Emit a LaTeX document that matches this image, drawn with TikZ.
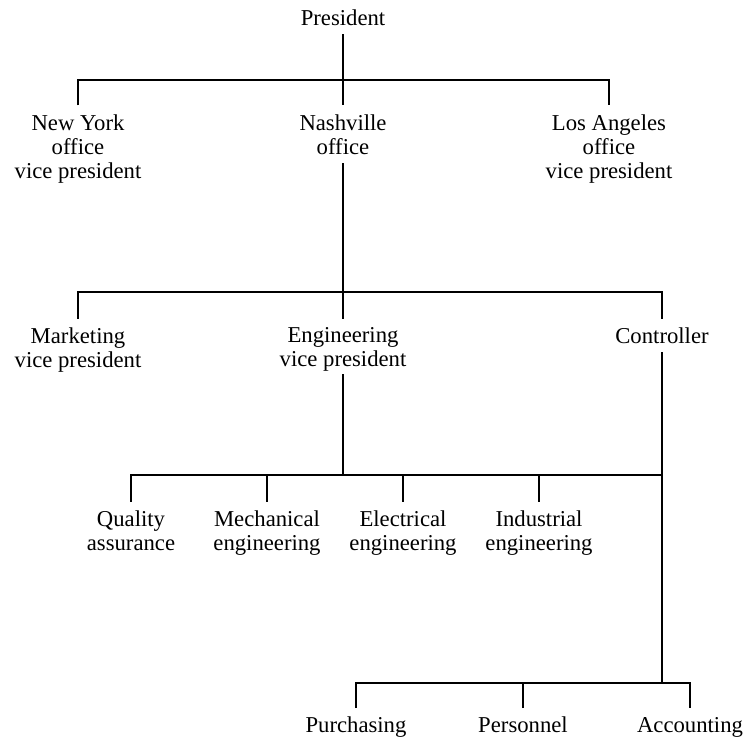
\documentclass[tikz,border=0pt]{standalone}
\usepackage{fontspec}
\setmainfont{Liberation Serif}
\begin{document}
\begin{tikzpicture}[x=1pt,y=-1pt,
  unit/.style={inner sep=0pt,outer xsep=0pt,outer ysep=9pt,align=center,anchor=north,
    font=\fontsize{22.7}{24}\selectfont},
  link/.style={line width=2.8pt}]
\useasboundingbox (0,0) rectangle (747,738);

% top level
\node[unit] (pres) at (343,0.5) {President};

% offices
\node[unit] (ny)   at (78,105.5)  {New York\\office\\vice president};
\node[unit] (nash) at (343,105.5) {Nashville\\office};
\node[unit] (la)   at (609,105.5) {Los Angeles\\office\\vice president};

% Nashville staff
\node[unit] (mkt)  at (78,318.5)  {Marketing\\vice president};
\node[unit] (eng)  at (343,318.5) {Engineering\\vice president};
\node[unit] (ctrl) at (662,318.5) {Controller};

% engineering departments
\node[unit] (qa)   at (131,501.5) {Quality\\assurance};
\node[unit] (mech) at (267,501.5) {Mechanical\\engineering};
\node[unit] (elec) at (403,501.5) {Electrical\\engineering};
\node[unit] (ind)  at (539,501.5) {Industrial\\engineering};

% controller departments
\node[unit] (purch) at (356,708) {Purchasing};
\node[unit] (pers)  at (523,708) {Personnel};
\node[unit] (acct)  at (690,708) {Accounting};

% junctions on the horizontal bars
\coordinate (bar1) at (343,80);
\coordinate (bar2) at (343,292);
\coordinate (bar3) at (343,475);
\coordinate (c3)   at (662,475);
\coordinate (c4)   at (662,683);

% connectors
\draw[link] (pres) -- (nash);
\draw[link] (ny) |- (bar1) -| (la);
\draw[link] (nash) -- (eng);
\draw[link] (mkt) |- (bar2) -| (ctrl);
\draw[link,shorten <=-6pt] (eng) -- (bar3);
\draw[link] (qa) |- (c3);
\draw[link] (mech) -- (mech |- c3);
\draw[link] (elec) -- (elec |- c3);
\draw[link] (ind) -- (ind |- c3);
\draw[link] (ctrl) -- (c4);
\draw[link] (purch) |- (c4) -| (acct);
\draw[link] (pers) -- (pers |- c4);
\end{tikzpicture}
\end{document}
